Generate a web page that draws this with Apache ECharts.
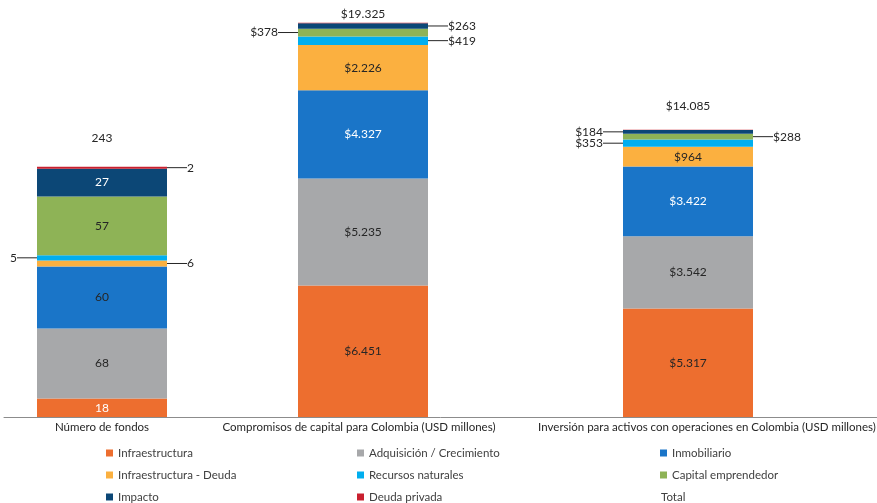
<!DOCTYPE html>
<html>
<head>
<meta charset="utf-8">
<script src="https://cdn.jsdelivr.net/npm/echarts@6/dist/echarts.min.js"></script>
<style>html,body{margin:0;padding:0;background:#fff}#c{width:877px;height:503px}</style>
</head>
<body>
<div id="c"></div>
<script>
// ---- data ----
const categories = [
  'Número de fondos',
  'Compromisos de capital para Colombia (USD millones)',
  'Inversión para activos con operaciones en Colombia (USD millones)'
];
const seriesNames = ['Infraestructura', 'Adquisición / Crecimiento', 'Inmobiliario',
  'Infraestructura - Deuda', 'Recursos naturales', 'Capital emprendedor', 'Impacto', 'Deuda privada'];
const infraestructura = [18, 6451, 5317];
const adquisicion = [68, 5235, 3542];
const inmobiliario = [60, 4327, 3422];
const infraDeuda = [6, 2226, 964];
const recursosNaturales = [5, 419, 353];
const capitalEmprendedor = [57, 378, 288];
const impacto = [27, 263, 184];
const deudaPrivada = [2, 26, 15];
const totals = [243, 19325, 14085];

// ---- styles ----
const values = [infraestructura, adquisicion, inmobiliario, infraDeuda, recursosNaturales, capitalEmprendedor, impacto, deudaPrivada];
const colors = ['#ED6E2F', '#A7A8AA', '#1A75C8', '#FBB040', '#00AEEF', '#8EB356', '#0C4776', '#C9202F'];
// w: inside white, d: inside dark, r: right callout, l: left callout, n: none
const labelModes = [
  ['w', 'd', 'd'],
  ['d', 'd', 'd'],
  ['d', 'w', 'w'],
  ['r', 'd', 'd'],
  ['l', 'r', 'l'],
  ['d', 'l', 'r'],
  ['w', 'r', 'l'],
  ['r', 'n', 'n']
];
const totalLabelDistance = [23, 3, 18];
const FONT = 'Lato';
const DARK = '#262626';
const TXT = 11.5;

function fmt(v, cur) {
  const s = String(Math.round(v)).replace(/\B(?=(\d{3})+(?!\d))/g, '.');
  return cur ? '$' + s : s;
}
function makeItem(v, mode) {
  const it = { value: v };
  if (mode === 'n') it.label = { show: false };
  else if (mode === 'w' || mode === 'd') it.label = { show: true, position: 'inside', color: mode === 'w' ? '#fff' : DARK };
  else {
    it.label = { show: true, position: mode === 'r' ? 'right' : 'left', distance: 0, color: DARK, padding: [0, 2] };
    it.labelLine = { show: true, lineStyle: { color: DARK, width: 1 } };
  }
  return it;
}

const series = [];
const groups = [
  { idx: [0], axis: 0, cur: false, stack: 'a' },
  { idx: [1, 2], axis: 1, cur: true, stack: 'b' }
];
groups.forEach(g => {
  seriesNames.forEach((name, s) => {
    const modes = g.idx.map(i => labelModes[s][i]);
    series.push({
      name, type: 'bar', stack: g.stack,
      xAxisIndex: g.axis, yAxisIndex: g.axis,
      barWidth: 130,
      itemStyle: { color: colors[s] },
      label: { fontFamily: FONT, fontSize: 12, formatter: p => fmt(p.value, g.cur) },
      labelLine: { show: false },
      labelLayout: p => {
        const m = modes[p.dataIndex];
        if (m === 'r') return { dx: 18 };
        if (m === 'l') return { dx: -18 };
        return {};
      },
      data: g.idx.map(i => makeItem(values[s][i], labelModes[s][i]))
    });
  });
  series.push({
    name: 'Total', type: 'scatter',
    xAxisIndex: g.axis, yAxisIndex: g.axis,
    symbolSize: 0,
    itemStyle: { color: DARK, opacity: 1 },
    label: { show: true, position: 'top', color: DARK, fontFamily: FONT, fontSize: 12, formatter: p => fmt(p.value, g.cur) },
    data: g.idx.map(i => ({ value: totals[i], label: { distance: totalLabelDistance[i] } }))
  });
});

const axisLabelBase = { fontFamily: FONT, fontSize: TXT, color: DARK, margin: 4, interval: 0 };
const legendBase = {
  orient: 'vertical', top: 446, height: 70, padding: 0, itemWidth: 7, itemHeight: 7, itemGap: 8, icon: 'rect',
  textStyle: { fontFamily: FONT, fontSize: TXT, color: '#404040', lineHeight: 14 }
};

const option = {
  animation: false,
  grid: [
    { left: 4, top: 9, width: 196, height: 408, outerBoundsMode: 'none', containLabel: false },
    { left: 200.5, top: 9, width: 650, height: 408, outerBoundsMode: 'none', containLabel: false },
    { left: 4, top: 9, width: 873, height: 408, outerBoundsMode: 'none', containLabel: false }
  ],
  xAxis: [
    { type: 'category', gridIndex: 0, data: [categories[0]], axisLine: { show: false }, axisTick: { show: false }, axisLabel: axisLabelBase },
    { type: 'category', gridIndex: 1, data: [categories[1], categories[2]], axisLine: { show: false }, axisTick: { show: false },
      axisLabel: Object.assign({}, axisLabelBase, {
        formatter: (v, i) => i === 1 ? '{r|' + v + '}' : '{l|' + v + '}',
        rich: {
          r: { fontFamily: FONT, fontSize: TXT, color: DARK, padding: [0, 0, 0, 38] },
          l: { fontFamily: FONT, fontSize: TXT, color: DARK, padding: [0, 8, 0, 0] }
        }
      }) },
    { type: 'category', gridIndex: 2, data: [''], axisLine: { show: true, lineStyle: { color: '#8c8c8c', width: 1 } }, axisTick: { show: false }, axisLabel: { show: false } }
  ],
  yAxis: [
    { type: 'value', gridIndex: 0, min: 0, max: 396, show: false },
    { type: 'value', gridIndex: 1, min: 0, max: 20000, show: false },
    { type: 'value', gridIndex: 2, min: 0, max: 1, show: false }
  ],
  legend: [
    Object.assign({}, legendBase, { left: 106, data: ['Infraestructura', 'Infraestructura - Deuda', 'Impacto'] }),
    Object.assign({}, legendBase, { left: 357, data: ['Adquisición / Crecimiento', 'Recursos naturales', 'Deuda privada'] }),
    Object.assign({}, legendBase, { left: 660, data: ['Inmobiliario', 'Capital emprendedor'] }),
    Object.assign({}, legendBase, { left: 656, top: 490, height: 20, itemWidth: 0, data: [{ name: 'Total', itemStyle: { opacity: 0 } }] })
  ],
  series
};
const chart = echarts.init(document.getElementById('c'), null, { renderer: 'canvas' });
chart.setOption(option);
</script>
</body>
</html>
